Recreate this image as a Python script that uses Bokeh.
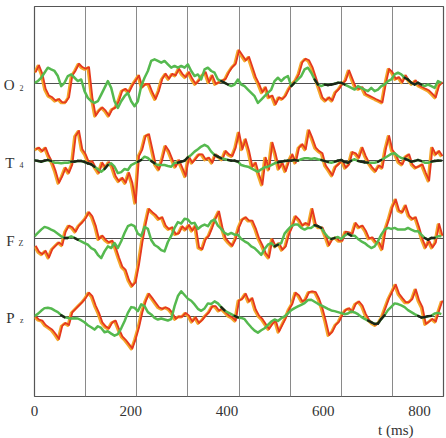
import numpy as np
from bokeh.plotting import figure
from bokeh.models import Range1d, FixedTicker, LinearAxis, Title
from bokeh.embed import file_html
from bokeh.resources import INLINE

# sample times (ms)
t = np.round(np.arange(123) * 6.93, 2)

labels_main = ["O", "T", "F", "P"]
labels_sub = ["2", "4", "Z", "z"]
offsets = [310.3, 233.7, 156.3, 79.7]

o2_red = [11, 17.7, 9.3, -5.7, -12.3, -14, -17.3, -15.7, -19, -19,
          -14, 7.7, 12.7, 19.3, 16, 14.3, 16, -14, -32.3, -27.3,
          -24, -27.3, -32.3, -25.7, -24, -17.3, -7.3, -5.7, -9, -2.3,
          2.7, 7.7, -4, -0.7, -0.7, -9, -15.7, -7.3, 4.3, 9.3,
          4.3, 9.3, 7.7, 14.3, 9.3, 6, 11, 4.3, -0.7, 2.7,
          7.7, 11, 1, 7.7, -0.7, 1, 2.7, 4.3, 11, 16,
          19.3, 32.7, 27.7, 22.7, 26, 16, 6, -0.7, -9, -4,
          -14, -12.3, -20.7, -14, -15.7, -12.3, -5.7, -0.7, 2.7, 9.3,
          21, 24.3, 22.7, 16, 6, -4, -14, -17.3, -14, -17.3,
          -9, -5.7, -0.7, 2.7, 12.7, 4.3, -4, -5.7, -4, -10.7,
          -12.3, -14, -15.7, -17.3, -19, -0.7, 14.3, 11, 4.3, 6,
          1, 7.7, 2.7, -0.7, 2.7, -2.3, -4, -5.7, -7.3, -10.7,
          -14, -2.3, 1]
o2_green = [1, 2.7, 6, 11, 16, 14.3, 12.7, 7.7, -2.3, 1,
            7.7, 9.3, 6, 2.7, 4.3, -7.3, -14, -17.3, -19, -17.3,
            -10.7, -4, 2.7, -4, -17.3, -24, -17.3, -12.3, -9, -17.3,
            -22.3, -17.3, -2.3, 6, 12.7, 22.7, 24.3, 22.7, 21, 22.7,
            19.3, 16, 17.7, 16, 17.7, 16, 19.3, 12.7, 7.7, 9.3,
            4.3, 14.3, 16, 12.7, 11, 4.3, 2.7, 1, -0.7, -2.3,
            -0.7, 4.3, -0.7, -2.3, -5.7, -9, -12.3, -19, -15.7, -12.3,
            -9, -5.7, 2.7, 6, 2.7, 6, 7.7, -2.3, 1, 4.3,
            7.7, 14.3, 16, 11, 4.3, -0.7, -2.3, -0.7, -1.3, -0.7,
            0, 1, 1, -0.7, -2.3, -4, -5.7, -2.3, -4, -5.7,
            -7.3, -4, -7.3, -5.7, -2.3, -0.7, 2.7, 4.3, 9.3, 11,
            9.3, 6, 4.3, 1, -0.7, 1, -0.7, -2.3, -0.7, -2.3,
            -4, 2.7, 1]

t4_red = [11, 12.7, 9.3, 12.7, 4.3, -1.7, -10.7, -22.3, -15.7, -7.3,
          -12.3, -4, 24.3, 29.3, 11, 6, -2.3, -0.7, -7.3, -12.3,
          -2.3, -7.3, -1.7, -5.7, -15.7, -20.7, -17.3, -22.3, -12.3, -22.3,
          -42, 4.3, 11, 24.3, 26, 11, -4, -9, 1, 14.3,
          9.3, 1,
          -6.3, 0.3, -7.3, -15.7, 3.7, -2.3, 1.7, 6, 6, 1,
          2.7, -2.3, 6, 3.7, 1, 9.3, 6, 4.3, 12.7, 27.7,
          11, 21, 9.3, -6.3, -2.3, -14, -24, 2.7, -9, 17.7,
          6, -8.3, -2.3, -10.7, -0.7, 6, -2.3, 12.7, 16, 11,
          30,
          22, 12.7, 9.3, 7, -5, -9.7, -15, -6.3, -3.3, 0.3,
          -7.3, -4, 8.3, 7, 2.7, 12.7, 4.3, -2.3, -7.3, -10.7,
          -5, -7.3, 11, 24.3, 10.3, 6, -1.7, -4, 3.7, 6,
          -4, -7.3, -5.7, -4, -12.3, -20, 12.7, 6, 9.3, 4.3]
t4_green = [0.7, 0, -0.7, 0.3, 1, 0, -1.7, -1.7, -2.3, -1.7,
            -1.7, -0.7, -0.7, 0, 0, -1, -2.3, -3.3, -5.7, -8,
            -10.7, -8, -4, -2.3, -5.7, -12, -11, -8, -9, -4,
            -2.3, -0.7, 1, 4.3, 3, 0, -2.3, -4, -4, -4,
            -5, -5.7,
            -1.7, -1.7, -0.7, 0.3, 3.7, 6, 9.3, 11.7, 14.3, 16,
            14.3, 9.3, 6, 4.3, 2.7, 2, 1, 0.3, 0.3, -0.7,
            -4, -5, -5.7, -7.3, -9, -10.7, -8.3, -6.3, -5.7, -4,
            -2.3, -1.3, -0.7, 0, 0.3, 0.3, 1, 0.3, 1.7, 2.7,
            2.7,
            2, 2.7, 1.7, 1, 0, -1, -1.7, -0.7, 0.3, 1,
            -1, -1.7, 0.3, 1.7, 0, -0.7, -1.3, -1.7, -1.7, -1.7,
            -0.7, 1, 3, 5, 7, 7.7, 5, 3, 2.3, 1,
            -0.7, 0, 1, 0, -1.7, -1.7, -0.7, 0, 0.3, 0.3]

fz_red = [-7.3, -13.3, -15.7, -12.3, -19, -10.7, -7.3, -4, -6.7, 6.7,
          12.7, 11, 6.7, 12.7, 16, 20, 26, 22, 12.7, -0.7,
          2.7, -1.3, -4, -2.3, -9, -19, -28, -31.3, -41.3, -47.3,
          -43.3, -25.7, -4, 14.3, 29.3, 26, 23.3, 19.3, 21, 12.7,
          9.3, 11,
          4.3, 5.3, 12, 8.7, 13.3, 7.7, 12.7, -9, -10.7, -0.7,
          2.7, 11, 20, 26.7, 11, 0, -4, -7.3, -0.7, 11,
          18.7, 21, 17.7, 17.7, 10, 0, -6.7, -14.7, -19, -0.7,
          -8, -4.7, -11.3, -8, 4.3, 12, 22, 18.7, 12.7, 15.3,
          13.3,
          29.3, 14.3, 11, 11, 2.7, -6.7, -0.7, 1, -2.3, -2.3,
          6.7, 6, 4.3, 15.3, 11, 12.7, 7.7, 0, 1, -3.3,
          -4, -10.7, 9.3, 19.3, 31, 38.7, 27.7, 26, 32.7, 22.7,
          19.3, 21, 11, -0.7, -9, -2.3, -9, -4, 14.3, 2.7]
fz_green = [2.7, 6, 9.3, 12, 11, 9.3, 7.7, 5.3, 2.7, 1,
            1, 2.7, 1, -0.7, -2.3, -4, -5.7, -9, -10.7, -15.7,
            -19, -12.3, -7.3, -9, -4, -9, -2.3, 6, 12.7, 14.3,
            12.7, 5.3, 3, 12, 10, -1, -6, -8, -11, -12.3,
            -3, 3,
            11, 16.7, 15.3, 20, 19.3, 15.3, 16, 10, 12.7, 14.3,
            12.7, 17.7, 19.3, 13.3, 10, 6, 4.3, 6, 4.3, 4.3,
            0, -2.3, -4, -7.3, -9, -12.3, -15.7, -10, -5.7, -4,
            -7.3, -5.7, -4, 5.3, 9.3, 12.7, 14.3, 14.3, 11, 9.3,
            11,
            11, 13.7, 12.7, 11, 6, 2, 0, 1, 2, 0,
            3.3, 5.3, 3.3, 3.3, 0, -2.3, -4, -6.7, -9, -7.3,
            -2.3, 4.3, 9.3, 11, 10, 11, 9.3, 9.3, 9.3, 11,
            9.3, 7.7, 7.7, 4.3, 1, -0.7, 1, 1, 2.7, 2.7]

pz_red = [-0.7, -4, -5, -9.3, -11.7, -14, -18.3, -23.3, -10, -7.3,
          -9.3, 3.3, 6.7, 10, 13.3, 17.3, 22.7, 19.3, 10, 2.7,
          -6.7, -10.7, -12.7, -6.7, -5, -13.3, -20.7, -24, -28.3, -32.7,
          -23.3, -11.7, 3.3, 14, 21.7, 17.3, 12.7, 8.3, 6.7, 8.3,
          6.7, 2.7,
          -3.3, -0.7, -1, 2.7, 0, -6, -1.7, -7.3, -4.3, 0,
          3.3, 9.3, 9.3, 5, 6.7, 3.3, 0, -1.7, -5, 15,
          16.7, 21.7, 14, 17.3, 6, 0, -3.3, -8.3, -13.3, -8.3,
          -5, -16, -9.3, -2.7, 6, 11.7, 22.7, 20, 14, 16,
          23.3,
          24, 23.3, 16.7, 7.3, -5, -19.3, -16, -9.3, -6, 0.7,
          5.7, 7.3, 4, 11.7, 14, 10, 1.7, -4.3, -7.3, -9.3,
          -6.7, -0.7, 8.3, 17.3, 24, 30.7, 21.7, 17.3, 13.3, 13.3,
          16.7, 26, 15, 8.3, -8.3, -6, -3.3, -6, 5, 15]
pz_green = [0, 2.3, 5.3, 8, 8.3, 7.7, 5.7, 4, 1, -1,
            -1.7, -2.3, -2, -2.3, -4, -6, -9, -11, -13.3, -10,
            -11.7, -16, -15, -17.3, -19.3, -17.7, -12, -5, 3.3, 9,
            8.3, 5, 11.7, 10, 4, 1.7, -1.7, -3.3, -2.3, -3.3,
            -4.3, -3,
            10, 20, 24.7, 21, 17.3, 15.3, 11.7, 7.3, 5.3, 7.7,
            12.7, 12, 14.7, 12.7, 9, 5.7, 3.7, 2, 0.3, -1.3,
            -1.7, -3, -7.3, -11, -14.3, -16.3, -14, -12, -8.7, -5.3,
            -3.3, -4.7, -2, -0.3, 2.7, 6, 8, 9.7, 11.3, 13,
            16,
            16.3, 14.3, 12.3, 10.7, 9, 7.3, 5.7, 5, 4, 3,
            2, 2.7, 4.7, 3.7, 2, -0.7, -2.7, -4.3, -6, -7.7,
            -7.3, -2.7, 1, 6, 9.3, 12.7, 12, 10.7, 9, 6,
            4, 2, 0.3, -1.3, -1, 0, 0.3, 2.7, 3.3, 2]

reds = [o2_red, t4_red, fz_red, pz_red]
greens = [o2_green, t4_green, fz_green, pz_green]

x_ticks = [0, 200, 400, 600, 800]
x_max = 850
FONT = "Liberation Serif"

p = figure(width=446, height=438, x_range=Range1d(0, x_max), y_range=Range1d(0, 387),
           output_backend="svg", toolbar_location=None,
           min_border_left=2, min_border_right=3, min_border_top=6, min_border_bottom=2)
p.background_fill_color = "white"
p.border_fill_color = "white"
p.outline_line_color = "#555555"
p.outline_line_width = 1.2

p.xgrid.ticker = FixedTicker(ticks=[x_max / 8 * i for i in range(1, 8)])
p.xgrid.grid_line_color = "#8a8a8a"
p.xgrid.grid_line_width = 1
p.ygrid.ticker = FixedTicker(ticks=offsets)
p.ygrid.grid_line_color = "#505050"
p.ygrid.grid_line_width = 1.1

# x axis
p.xaxis.ticker = FixedTicker(ticks=x_ticks)
p.xaxis.axis_line_color = None
p.xaxis.major_tick_line_color = None
p.xaxis.minor_tick_line_color = None
p.xaxis.major_tick_out = 0
p.xaxis.major_tick_in = 0
p.xaxis.major_label_standoff = 9
p.xaxis.major_label_text_font = FONT
p.xaxis.major_label_text_font_size = "15px"
p.xaxis.major_label_text_color = "#333333"

# inner y axis: subscripts of the channel names
sub_ticks = [o - 4.5 for o in offsets]
yax = p.yaxis[0]
yax.ticker = FixedTicker(ticks=sub_ticks)
yax.major_label_overrides = {v: s for v, s in zip(sub_ticks, labels_sub)}
yax.axis_line_color = None
yax.major_tick_line_color = None
yax.minor_tick_line_color = None
yax.major_tick_out = 0
yax.major_tick_in = 0
yax.major_label_standoff = 11
yax.major_label_text_font = FONT
yax.major_label_text_font_size = "8px"
yax.major_label_text_color = "#333333"

# outer y axis: channel letters
main_ticks = [o - 1.5 for o in offsets]
yax2 = LinearAxis(ticker=FixedTicker(ticks=main_ticks),
                  major_label_overrides={v: s for v, s in zip(main_ticks, labels_main)},
                  axis_line_color=None, major_tick_line_color=None, minor_tick_line_color=None,
                  major_tick_out=0, major_tick_in=0, major_label_standoff=1,
                  major_label_text_font=FONT, major_label_text_font_size="15px",
                  major_label_text_color="#333333")
p.add_layout(yax2, "left")

p.add_layout(Title(text="t (ms)", align="right", offset=30, standoff=2,
                   text_font=FONT, text_font_size="15px", text_font_style="normal",
                   text_color="#333333"), "below")

tt = np.array(t)
for red, green, off in zip(reds, greens, offsets):
    r = np.array(red) + off
    g = np.array(green) + off
    p.line(tt, r, line_color="#f4a62a", line_width=2.8, line_join="round")
    p.line(tt + 2.5, r + 0.6, line_color="#e5391f", line_width=1.8, line_join="round")
    p.line(tt, g, line_color="#55b94f", line_width=2.5, line_join="round")
    gd = np.array(green)
    rd = np.array(red)
    mask = (np.abs(gd - rd) < 2.6) | (np.abs(gd) < 1.5)
    seg = mask[:-1] & mask[1:]
    p.segment(tt[:-1][seg], g[:-1][seg], tt[1:][seg], g[1:][seg],
              line_color="#1c2418", line_width=2.3, line_cap="round")

open("out.html", "w").write(file_html(p, INLINE))
